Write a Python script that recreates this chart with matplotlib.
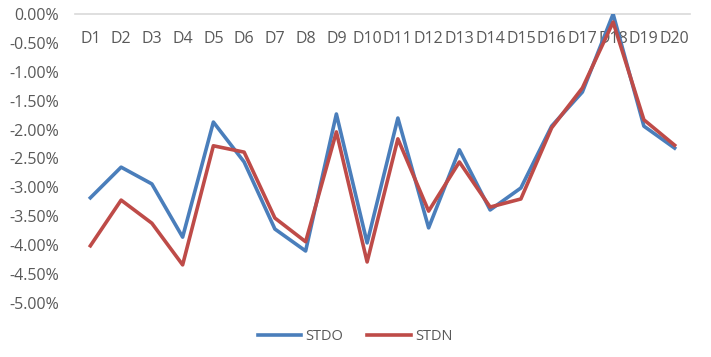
import numpy as np
import matplotlib.pyplot as plt
from matplotlib.ticker import FuncFormatter

# category labels and the two series (percent)
days = ['D%d' % i for i in range(1, 21)]
stdo = [-3.18, -2.65, -2.94, -3.86, -1.87, -2.56, -3.72, -4.10, -1.73, -3.96,
        -1.80, -3.70, -2.35, -3.39, -3.01, -1.94, -1.35, 0.00, -1.94, -2.32]
stdn = [-4.01, -3.22, -3.62, -4.34, -2.28, -2.39, -3.53, -3.94, -2.04, -4.29,
        -2.16, -3.41, -2.56, -3.34, -3.20, -1.97, -1.28, -0.14, -1.83, -2.27]

plt.rcParams['font.family'] = ['Open Sans', 'DejaVu Sans']

fig = plt.figure(figsize=(7.11, 3.57), dpi=100)
ax = fig.add_axes([75 / 711, 1 - 303 / 357, 615 / 711, 289 / 357])

x = np.arange(len(days))
ax.plot(x, stdo, color='#4A7EBB', lw=2.6, label='STDO', zorder=3)
ax.plot(x, stdn, color='#BE4B48', lw=2.6, label='STDN', zorder=3)

ax.set_xlim(-0.5, len(days) - 0.5)
ax.set_ylim(-5.0, 0.0)
ax.set_yticks(np.arange(-5.0, 0.01, 0.5))
ax.yaxis.set_major_formatter(FuncFormatter(lambda v, p: '%.2f%%' % v))

ax.set_xticks(x)
ax.set_xticklabels(days)
ax.xaxis.tick_top()
ax.tick_params(axis='x', top=False, labeltop=True, labelbottom=False,
               pad=-27, labelsize=11.5, labelcolor='#595959')
ax.tick_params(axis='y', left=False, pad=8, labelsize=11.5, labelcolor='#595959')

for s in ['left', 'right', 'bottom']:
    ax.spines[s].set_visible(False)
ax.spines['top'].set_color('#D9D9D9')
ax.spines['top'].set_linewidth(1.2)

fig.legend(loc='center', bbox_to_anchor=(355 / 711, 1 - 337 / 357), ncol=2,
           frameon=False, fontsize=10.5, handlelength=3.0, columnspacing=1.6,
           handletextpad=0.3, labelcolor='#595959')

fig.savefig('out.png', dpi=100)
